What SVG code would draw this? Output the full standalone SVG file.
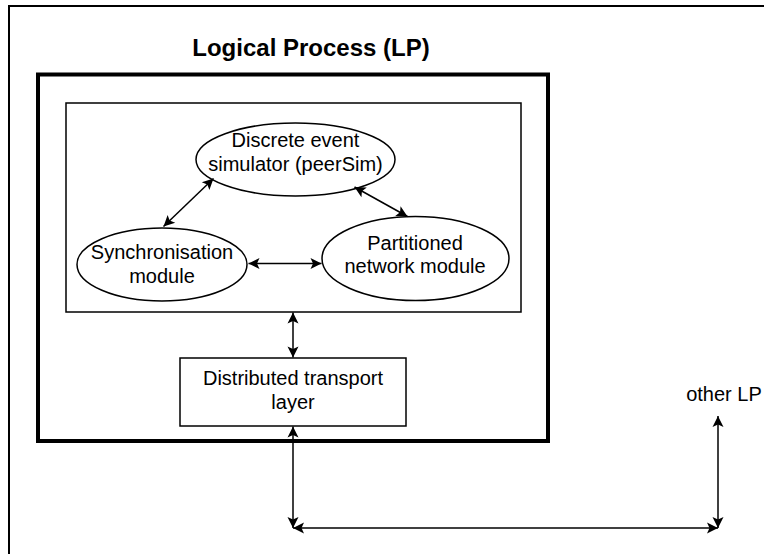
<svg xmlns="http://www.w3.org/2000/svg" width="764" height="554" viewBox="0 0 764 554">
  <style>
    .frame { fill: none; stroke: #000; stroke-width: 2; }
    .lp { fill: none; stroke: #000; stroke-width: 4; }
    .box { fill: #fff; stroke: #000; stroke-width: 1.5; }
    .node { fill: #fff; stroke: #000; stroke-width: 1.5; }
    .label { font-family: "Liberation Sans", Arial, sans-serif; font-size: 20px; fill: #000; text-anchor: middle; }
    .title { font-family: "Liberation Sans", Arial, sans-serif; font-size: 24px; font-weight: bold; fill: #000; text-anchor: middle; }
    .link { fill: none; stroke: #000; stroke-width: 1.5; marker-start: url(#head); marker-end: url(#head); }
  </style>
  <defs>
    <marker id="head" markerUnits="userSpaceOnUse" markerWidth="14" markerHeight="14" viewBox="-1 -7 14 14" refX="11" refY="0" orient="auto-start-reverse">
      <path d="M0,-5.5 L11,0 L0,5.5 L2.5,0 z" fill="#000"/>
    </marker>
  </defs>

  <rect width="764" height="554" fill="#fff"/>

  <!-- page frame, open to the right and bottom -->
  <path class="frame" d="M9,570 L9,6 L780,6"/>

  <!-- logical process container -->
  <g id="lp">
    <text class="title" x="311" y="56">Logical Process (LP)</text>
    <rect class="lp" x="38" y="74.5" width="510" height="366.5"/>
  </g>

  <!-- simulator core -->
  <g id="core">
    <rect class="box" x="66" y="103" width="455" height="209"/>
  </g>

  <g id="simulator">
    <ellipse class="node" cx="295.5" cy="159.5" rx="99.5" ry="36.5"/>
    <text class="label" x="295.5" y="147">Discrete event</text>
    <text class="label" x="295.5" y="170.5">simulator (peerSim)</text>
  </g>

  <g id="sync">
    <ellipse class="node" cx="162" cy="264.5" rx="85" ry="36.5"/>
    <text class="label" x="162" y="259">Synchronisation</text>
    <text class="label" x="162" y="282.5">module</text>
  </g>

  <g id="network">
    <ellipse class="node" cx="415.5" cy="258.5" rx="93.5" ry="42"/>
    <text class="label" x="415" y="249.5">Partitioned</text>
    <text class="label" x="415" y="273">network module</text>
  </g>

  <g id="transport">
    <rect class="box" x="180" y="358" width="226" height="68"/>
    <text class="label" x="293" y="385">Distributed transport</text>
    <text class="label" x="293" y="408.5">layer</text>
  </g>

  <g id="other">
    <text class="label" x="724" y="401">other LP</text>
  </g>

  <!-- connectors -->
  <g id="connectors">
    <line class="link" x1="213.5" y1="178.5" x2="163.5" y2="226.5"/>
    <line class="link" x1="354.5" y1="187" x2="407.5" y2="216.5"/>
    <line class="link" x1="248.5" y1="263.5" x2="321.5" y2="263.5"/>
    <line class="link" x1="293" y1="312.5" x2="293" y2="357.5"/>
    <line class="link" x1="293" y1="426.5" x2="293" y2="528"/>
    <line class="link" x1="293" y1="528" x2="718" y2="528"/>
    <line class="link" x1="718" y1="416" x2="718" y2="528"/>
  </g>
</svg>
